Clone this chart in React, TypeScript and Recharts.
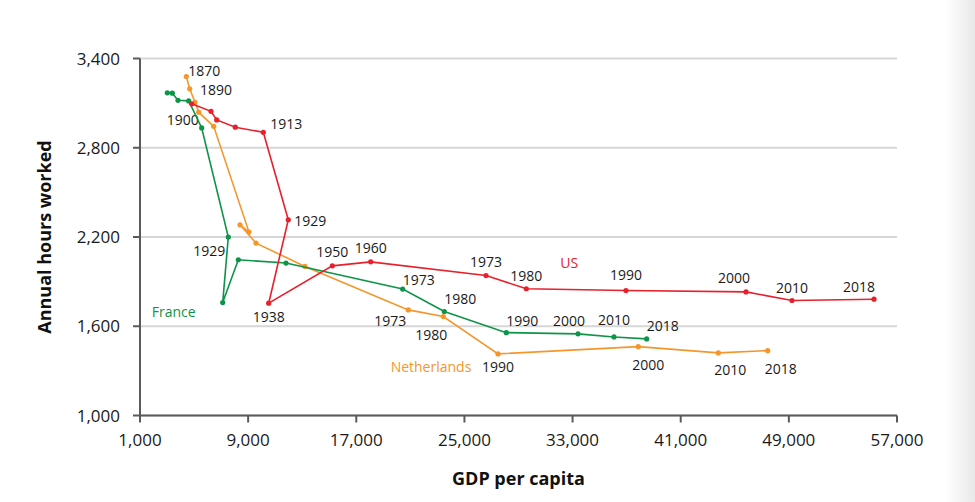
import React from 'react';
import { ScatterChart, Scatter, XAxis, YAxis, CartesianGrid } from 'recharts';

// Years sampled for every country
const years = [1870, 1880, 1890, 1900, 1913, 1929, 1938, 1950, 1960, 1973, 1980, 1990, 2000, 2010, 2018];

// GDP per capita and annual hours worked, by country
const usGdp = [4825, 6252, 6674, 8050, 10121, 11970, 10521, 15226, 18066, 26596, 29577, 36952, 45829, 49232, 55298];
const usHours = [3095, 3045, 2987, 2938, 2904, 2316, 1755, 2006, 2033, 1941, 1852, 1840, 1831, 1773, 1782];

const franceGdp = [3020, 3389, 3811, 4603, 5564, 7532, 7118, 8272, 11800, 20433, 23511, 28098, 33401, 36064, 38483];
const franceHours = [3169, 3167, 3119, 3115, 2933, 2200, 1759, 2047, 2025, 1850, 1699, 1557, 1549, 1528, 1515];

const nlGdp = [4425, 4677, 5069, 5342, 6452, 9063, 8398, 9581, 13206, 20848, 23437, 27483, 37862, 43780, 47434];
const nlHours = [3279, 3196, 3106, 3039, 2944, 2233, 2282, 2159, 2002, 1710, 1665, 1414, 1463, 1421, 1436];

const xTicks = [1000, 9000, 17000, 25000, 33000, 41000, 49000, 57000];
const yTicks = [1000, 1600, 2200, 2800, 3400];

const build = (gdp: number[], hours: number[]) =>
  years.map((year, i) => ({ year, gdp: gdp[i], hours: hours[i] }));

const usData = build(usGdp, usHours);
const franceData = build(franceGdp, franceHours);
const nlData = build(nlGdp, nlHours);

const FONT = '"Open Sans", "Noto Sans", sans-serif';
const RED = '#e8202c';
const GREEN = '#0d9448';
const ORANGE = '#f6962a';

// Where each year label sits relative to its point (dx, dy of the text centre)
type Placement = Record<number, [number, number]>;

const usLabels: Placement = {
  1913: [23, -9],
  1929: [22, 1],
  1938: [0, 13],
  1950: [0, -14],
  1960: [0, -14],
  1973: [0, -14],
  1980: [0, -13],
  1990: [0, -16],
  2000: [-12, -14],
  2010: [0, -13],
  2018: [-15, -13],
};

const franceLabels: Placement = {
  1929: [-19, 13],
  1973: [16, -10],
  1980: [16, -13],
  1990: [16, -12],
  2000: [-9, -13],
  2010: [0, -17],
  2018: [16, -13],
};

const nlLabels: Placement = {
  1870: [18, -6],
  1890: [21, -12.5],
  1900: [-16, 7],
  1973: [-18, 11],
  1980: [-12, 18],
  1990: [0, 13],
  2000: [10, 18],
  2010: [12, 17],
  2018: [13, 18],
};

type NameTag = { year: number; text: string; dx: number; dy: number };

const makeShape = (color: string, labels: Placement, tag: NameTag) => (props: any) => {
  const { cx, cy, payload } = props;
  const place = labels[payload.year];
  return (
    <g>
      <circle cx={cx} cy={cy} r={2.6} fill={color} />
      {place && (
        <text
          x={cx + place[0]}
          y={cy + place[1]}
          textAnchor="middle"
          dominantBaseline="central"
          fontFamily={FONT}
          fontSize={14}
          fill="#1a1a1a"
        >
          {payload.year}
        </text>
      )}
      {payload.year === tag.year && (
        <text
          x={cx + tag.dx}
          y={cy + tag.dy}
          textAnchor="middle"
          dominantBaseline="central"
          fontFamily={FONT}
          fontSize={14}
          fill={color}
        >
          {tag.text}
        </text>
      )}
    </g>
  );
};

const fmt = (v: number) => v.toLocaleString('en-US');

export default function App() {
  return (
    <div style={{ position: 'absolute', left: 0, top: 0, width: 975, height: 502, background: '#fff' }}>
      <ScatterChart
        width={975}
        height={502}
        margin={{ top: 58.5, right: 78, bottom: 26.5, left: 0 }}
      >
        <CartesianGrid vertical={false} stroke="#d6d6d6" strokeWidth={2} />
        <XAxis
          type="number"
          dataKey="gdp"
          domain={[1000, 57000]}
          ticks={xTicks}
          tickFormatter={fmt}
          height={60}
          stroke="#5a5a5a"
          strokeWidth={2}
          tickSize={7}
          tickMargin={11}
          tick={{ fontFamily: FONT, fontSize: 17, fill: '#1a1a1a' }}
          label={(p: any) => {
            const vb = p.viewBox;
            return (
              <text
                x={vb.x + vb.width / 2}
                y={vb.y + 62.5}
                textAnchor="middle"
                dominantBaseline="central"
                fontFamily={FONT}
                fontWeight={700}
                fontSize={18}
                fill="#111"
              >
                GDP per capita
              </text>
            );
          }}
        />
        <YAxis
          type="number"
          dataKey="hours"
          domain={[1000, 3400]}
          ticks={yTicks}
          tickFormatter={fmt}
          width={140}
          stroke="#5a5a5a"
          strokeWidth={2}
          tickSize={7}
          tickMargin={13}
          tick={{ fontFamily: FONT, fontSize: 17, fill: '#1a1a1a' }}
          label={(p: any) => {
            const vb = p.viewBox;
            const x = vb.x + 44;
            const y = vb.y + vb.height / 2;
            return (
              <text
                x={x}
                y={y}
                transform={`rotate(-90 ${x} ${y})`}
                textAnchor="middle"
                dominantBaseline="central"
                fontFamily={FONT}
                fontWeight={700}
                fontSize={18}
                fill="#111"
              >
                Annual hours worked
              </text>
            );
          }}
        />
        <Scatter
          name="Netherlands"
          data={nlData}
          fill={ORANGE}
          line={{ stroke: ORANGE, strokeWidth: 1.6 }}
          shape={makeShape(ORANGE, nlLabels, { year: 1990, text: 'Netherlands', dx: -67, dy: 13 })}
          isAnimationActive={false}
        />
        <Scatter
          name="France"
          data={franceData}
          fill={GREEN}
          line={{ stroke: GREEN, strokeWidth: 1.6 }}
          shape={makeShape(GREEN, franceLabels, { year: 1938, text: 'France', dx: -49, dy: 9 })}
          isAnimationActive={false}
        />
        <Scatter
          name="US"
          data={usData}
          fill={RED}
          line={{ stroke: RED, strokeWidth: 1.6 }}
          shape={makeShape(RED, usLabels, { year: 1980, text: 'US', dx: 43, dy: -26 })}
          isAnimationActive={false}
        />
      </ScatterChart>
      <div
        style={{
          position: 'absolute',
          right: 0,
          top: 0,
          width: 30,
          height: 502,
          background: 'linear-gradient(to right, rgba(235,235,235,0), rgba(232,232,232,1))',
          pointerEvents: 'none',
        }}
      />
    </div>
  );
}
